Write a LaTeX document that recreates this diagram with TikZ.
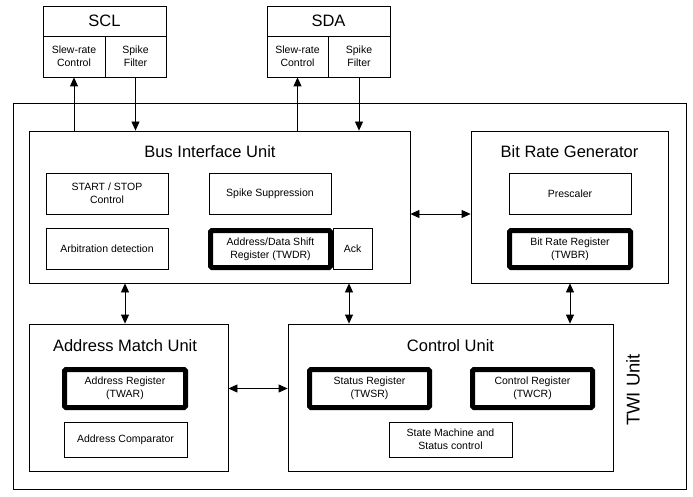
\documentclass[tikz,border=0pt]{standalone}
\usepackage{fontspec}
\setmainfont{Liberation Sans}
\usetikzlibrary{arrows.meta, positioning}

\begin{document}
\begin{tikzpicture}[
                x=1pt, y=-1pt,
                box/.style={rectangle, draw=black, line width=0.8pt, inner sep=0pt, text centered, align=center, font=\fontsize{10.5}{13}\selectfont},
                reg/.style={box, line width=5pt, rounded corners=1.5pt},
                unit/.style={rectangle, draw=black, line width=0.8pt, inner sep=0pt},
                title/.style={inner sep=0pt, font=\fontsize{16.5}{19}\selectfont},
                arrow/.style={line width=0.8pt, -{Triangle[length=9pt,width=8pt]}},
                dbl/.style={line width=0.8pt, {Triangle[length=9pt,width=8pt]}-{Triangle[length=9pt,width=8pt]}}
            ]
                \useasboundingbox (0,0) rectangle (693,497);

                % pins
                \node (scl) [box, minimum width=123pt, minimum height=30pt, font=\fontsize{16.5}{19}\selectfont] at (104.5,21) {SCL};
                \node (sclsr) [box, minimum width=62pt, minimum height=41pt] at (74,56.5) {Slew-rate\\Control};
                \node (sclsf) [box, minimum width=61pt, minimum height=41pt] at (135.5,56.5) {Spike\\Filter};
                \node (sda) [box, minimum width=123pt, minimum height=30pt, font=\fontsize{16.5}{19}\selectfont] at (328.5,21) {SDA};
                \node (sdasr) [box, minimum width=61pt, minimum height=41pt] at (297.5,56.5) {Slew-rate\\Control};
                \node (sdasf) [box, minimum width=62pt, minimum height=41pt] at (359,56.5) {Spike\\Filter};

                % TWI unit
                \node (twi) [unit, minimum width=673pt, minimum height=386pt] at (349.5,296) {};
                \node (twilabel) [inner sep=0pt, rotate=90, font=\fontsize{18.5}{22}\selectfont] at (633,390) {TWI Unit};

                % bus interface unit
                \node (biu) [unit, minimum width=381pt, minimum height=152pt] at (219.5,207) {};
                \node (biutitle) [title] at (210,152) {Bus Interface Unit};
                \node (startstop) [box, minimum width=122pt, minimum height=41pt] at (107,193.5) {START / STOP\\Control};
                \node (spike) [box, minimum width=122pt, minimum height=41pt] at (270,193.5) {Spike Suppression};
                \node (arbit) [box, minimum width=122pt, minimum height=41pt] at (107,248.5) {Arbitration detection};
                \node (twdr) [reg, minimum width=120pt, minimum height=37pt] at (270.5,249) {Address/Data Shift\\Register (TWDR)};
                \node (ack) [box, minimum width=39pt, minimum height=41pt] at (352.5,248.5) {Ack};

                % bit rate generator
                \node (brg) [unit, minimum width=197pt, minimum height=152pt] at (569.5,207) {};
                \node (brgtitle) [title] at (569.5,152) {Bit Rate Generator};
                \node (presc) [box, minimum width=122pt, minimum height=41pt] at (570,193.5) {Prescaler};
                \node (twbr) [reg, minimum width=121pt, minimum height=37pt] at (570,249) {Bit Rate Register\\(TWBR)};

                % address match unit
                \node (amu) [unit, minimum width=199pt, minimum height=147pt] at (128.5,397.5) {};
                \node (amutitle) [title] at (125,346) {Address Match Unit};
                \node (twar) [reg, minimum width=121pt, minimum height=38pt] at (125,388.5) {Address Register\\(TWAR)};
                \node (acomp) [box, minimum width=123pt, minimum height=35pt] at (125.5,439.5) {Address Comparator};

                % control unit
                \node (cu) [unit, minimum width=325pt, minimum height=147pt] at (450.5,397.5) {};
                \node (cutitle) [title] at (450.5,346) {Control Unit};
                \node (twsr) [reg, minimum width=120pt, minimum height=38pt] at (369.5,388.5) {Status Register\\(TWSR)};
                \node (twcr) [reg, minimum width=120pt, minimum height=38pt] at (532.5,388.5) {Control Register\\(TWCR)};
                \node (fsm) [box, minimum width=123pt, minimum height=35pt] at (450.5,439.5) {State Machine and\\Status control};

                \draw [arrow] (sclsr.south |- biu.north) -- (sclsr.south);
                \draw [arrow] (sclsf.south) -- (sclsf.south |- biu.north);
                \draw [arrow] (sdasr.south |- biu.north) -- (sdasr.south);
                \draw [arrow] (sdasf.south) -- (sdasf.south |- biu.north);
                \draw [dbl] ([yshift=-7pt]biu.east) -- ([yshift=-7pt]brg.west);
                \draw [dbl] (twar |- biu.south) -- (twar |- amu.north);
                \draw [dbl] ([xshift=-3.5pt]ack |- biu.south) -- ([xshift=-3.5pt]ack |- cu.north);
                \draw [dbl] (twbr |- brg.south) -- (twbr |- cu.north);
                \draw [dbl] (amu.east |- twar) -- (cu.west |- twar);
            \end{tikzpicture}
\end{document}
